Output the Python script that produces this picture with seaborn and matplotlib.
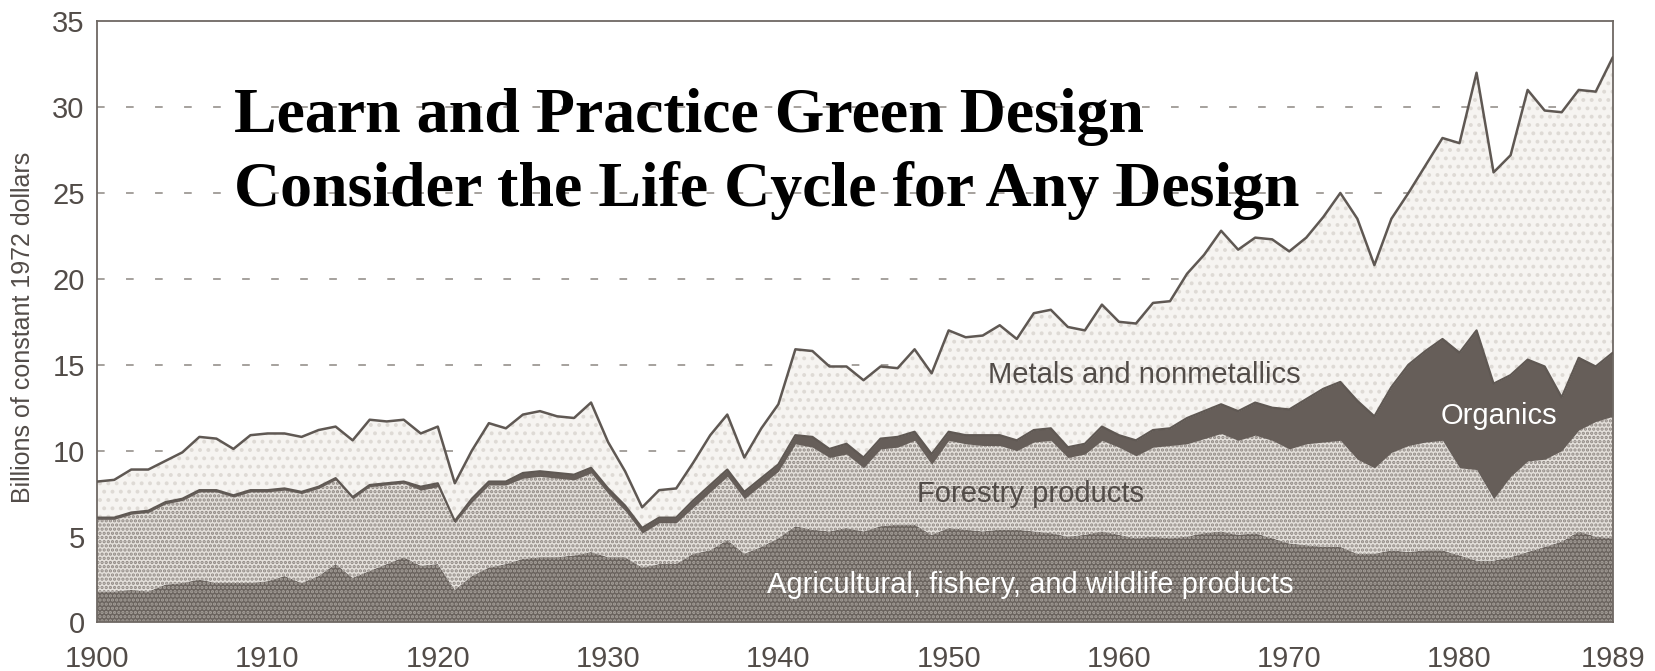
import matplotlib
matplotlib.use("Agg")
import matplotlib.pyplot as plt
import numpy as np
import pandas as pd
import seaborn as sns

years = list(range(1900, 1990))

agricultural = [
    1.8, 1.8, 1.9, 1.8, 2.2, 2.3, 2.5, 2.3, 2.3, 2.3,
    2.4, 2.7, 2.3, 2.7, 3.4, 2.6, 3.0, 3.4, 3.8, 3.3,
    3.4, 1.9, 2.7, 3.2, 3.4, 3.7, 3.8, 3.8, 3.9, 4.1,
    3.8, 3.8, 3.2, 3.4, 3.4, 4.0, 4.2, 4.8, 4.0, 4.4,
    4.9, 5.6, 5.4, 5.3, 5.5, 5.3, 5.6, 5.7, 5.7, 5.1,
    5.5, 5.4, 5.3, 5.4, 5.4, 5.3, 5.2, 5.0, 5.1, 5.3,
    5.1, 4.9, 5.0, 4.9, 5.0, 5.2, 5.3, 5.1, 5.2, 4.9,
    4.6, 4.5, 4.4, 4.4, 4.0, 4.0, 4.2, 4.1, 4.2, 4.2,
    3.9, 3.6, 3.6, 3.8, 4.1, 4.4, 4.7, 5.3, 5.0, 4.9,
]

forestry = [
    4.2, 4.2, 4.4, 4.6, 4.7, 4.8, 5.1, 5.3, 5.0, 5.3,
    5.2, 5.0, 5.2, 5.1, 4.9, 4.6, 4.9, 4.6, 4.3, 4.4,
    4.5, 3.9, 4.3, 4.8, 4.6, 4.7, 4.7, 4.6, 4.4, 4.6,
    3.7, 2.7, 2.0, 2.4, 2.4, 2.7, 3.4, 3.7, 3.2, 3.6,
    3.9, 4.8, 4.8, 4.3, 4.3, 3.7, 4.5, 4.5, 4.9, 4.1,
    5.1, 5.0, 5.0, 4.9, 4.6, 5.2, 5.4, 4.6, 4.7, 5.3,
    5.1, 4.8, 5.2, 5.4, 5.4, 5.5, 5.7, 5.5, 5.7, 5.7,
    5.5, 5.9, 6.1, 6.2, 5.5, 5.0, 5.7, 6.2, 6.3, 6.4,
    5.1, 5.3, 3.6, 4.7, 5.3, 5.1, 5.3, 5.9, 6.7, 7.1,
]

organics = [
    0.1, 0.1, 0.1, 0.1, 0.1, 0.1, 0.1, 0.1, 0.1, 0.1,
    0.1, 0.1, 0.1, 0.1, 0.1, 0.1, 0.1, 0.1, 0.1, 0.2,
    0.2, 0.1, 0.2, 0.2, 0.2, 0.3, 0.3, 0.3, 0.3, 0.3,
    0.3, 0.3, 0.3, 0.3, 0.3, 0.4, 0.4, 0.4, 0.4, 0.4,
    0.4, 0.5, 0.6, 0.5, 0.6, 0.6, 0.6, 0.6, 0.5, 0.6,
    0.5, 0.5, 0.6, 0.6, 0.6, 0.7, 0.7, 0.6, 0.6, 0.8,
    0.7, 0.9, 1.0, 1.0, 1.5, 1.6, 1.7, 1.7, 1.9, 1.9,
    2.3, 2.6, 3.1, 3.4, 3.4, 3.0, 3.8, 4.7, 5.3, 5.9,
    6.7, 8.1, 6.7, 5.9, 5.9, 5.4, 3.1, 4.2, 3.2, 3.7,
]

metals = [
    2.1, 2.2, 2.5, 2.4, 2.4, 2.7, 3.1, 3.0, 2.7, 3.2,
    3.3, 3.2, 3.2, 3.3, 3.0, 3.3, 3.8, 3.6, 3.6, 3.1,
    3.3, 2.2, 2.8, 3.4, 3.1, 3.4, 3.5, 3.3, 3.3, 3.8,
    2.7, 2.0, 1.2, 1.6, 1.7, 2.2, 2.9, 3.2, 2.0, 2.9,
    3.5, 5.0, 5.0, 4.8, 4.5, 4.5, 4.2, 4.0, 4.8, 4.7,
    5.9, 5.7, 5.8, 6.4, 5.9, 6.8, 6.9, 7.0, 6.6, 7.1,
    6.6, 6.8, 7.4, 7.4, 8.4, 9.1, 10.1, 9.4, 9.6, 9.8,
    9.2, 9.4, 10.0, 11.0, 10.6, 8.8, 9.8, 10.0, 10.8, 11.7,
    12.2, 15.0, 12.3, 12.8, 15.7, 14.9, 16.6, 15.6, 16.0, 17.2,
]

series_names = [
    "Agricultural, fishery, and wildlife products",
    "Forestry products",
    "Organics",
    "Metals and nonmetallics",
]

y_ticks = [0, 5, 10, 15, 20, 25, 30, 35]
x_ticks = [1900, 1910, 1920, 1930, 1940, 1950, 1960, 1970, 1980, 1989]

df = pd.DataFrame({
    "year": years,
    series_names[0]: agricultural,
    series_names[1]: forestry,
    series_names[2]: organics,
    series_names[3]: metals,
})

sns.set_theme(style="white")
plt.rcParams["font.family"] = ["Liberation Sans", "DejaVu Sans"]
plt.rcParams["hatch.linewidth"] = 1.6

ink = "#5f5853"
text_gray = "#524c48"

fig = plt.figure(figsize=(16.56, 6.71), dpi=100)
ax = fig.add_axes([0.0587, 0.0724, 0.9152, 0.896])

# stacked layers, drawn bottom-up
cum = np.zeros(len(years))
layer_styles = [
    dict(facecolor="#6a635e", edgecolor="#a7a19b", hatch="...."),   # agricultural
    dict(facecolor="#e4e0db", edgecolor="#8f8883", hatch="...."),   # forestry
    dict(facecolor="#665e59", edgecolor="#665e59", hatch=None),     # organics
    dict(facecolor="#f6f4f1", edgecolor="#dedad5", hatch=".."),     # metals
]
tops = []
for name, style in zip(series_names, layer_styles):
    vals = df[name].to_numpy()
    lower = cum.copy()
    cum = cum + vals
    tops.append(cum.copy())
    ax.fill_between(df["year"], lower, cum, linewidth=0, zorder=2, **style)

# outline along the organics band and the overall total
df["organics_top"] = tops[2]
df["total"] = tops[3]
sns.lineplot(data=df, x="year", y="organics_top", ax=ax, color=ink,
             linewidth=1.6, zorder=3)
sns.lineplot(data=df, x="year", y="total", ax=ax, color=ink,
             linewidth=1.8, zorder=3)

# dashed horizontal guides behind the layers
for yv in y_ticks[1:-1]:
    ax.axhline(yv, color="#8d8782", linewidth=1.1, linestyle=(0, (5, 14)),
               zorder=1)

ax.set_xlim(1900, 1989)
ax.set_ylim(0, 35)
ax.set_xticks(x_ticks)
ax.set_yticks(y_ticks)
ax.tick_params(axis="both", length=0, labelsize=21, colors=text_gray)
ax.tick_params(axis="x", pad=16)
ax.tick_params(axis="y", pad=9)
ax.set_xlabel("")
ax.set_ylabel("Billions of constant 1972 dollars", fontsize=18,
              color=text_gray)
ax.yaxis.set_label_coords(-0.041, 0.49)
for sp in ax.spines.values():
    sp.set_color("#6e6863")
    sp.set_linewidth(1.3)
ax.grid(False)

# layer labels
ax.text(1961.5, 14.4, "Metals and nonmetallics", fontsize=21, color=text_gray,
        ha="center", va="center", zorder=4)
ax.text(1954.8, 7.5, "Forestry products", fontsize=21, color=text_gray,
        ha="center", va="center", zorder=4)
ax.text(1954.8, 2.15, "Agricultural, fishery, and wildlife products",
        fontsize=21, color="white", ha="center", va="center", zorder=4)
ax.text(1982.3, 12.0, "Organics", fontsize=21, color="white",
        ha="center", va="center", zorder=4)

# headline
fig.text(0.1415, 0.803, "Learn and Practice Green Design",
         fontsize=46, fontweight="bold", family="Liberation Serif",
         color="black", ha="left", va="baseline")
fig.text(0.1415, 0.693, "Consider the Life Cycle for Any Design",
         fontsize=46, fontweight="bold", family="Liberation Serif",
         color="black", ha="left", va="baseline")

fig.savefig("out.png", dpi=100, facecolor="white")
